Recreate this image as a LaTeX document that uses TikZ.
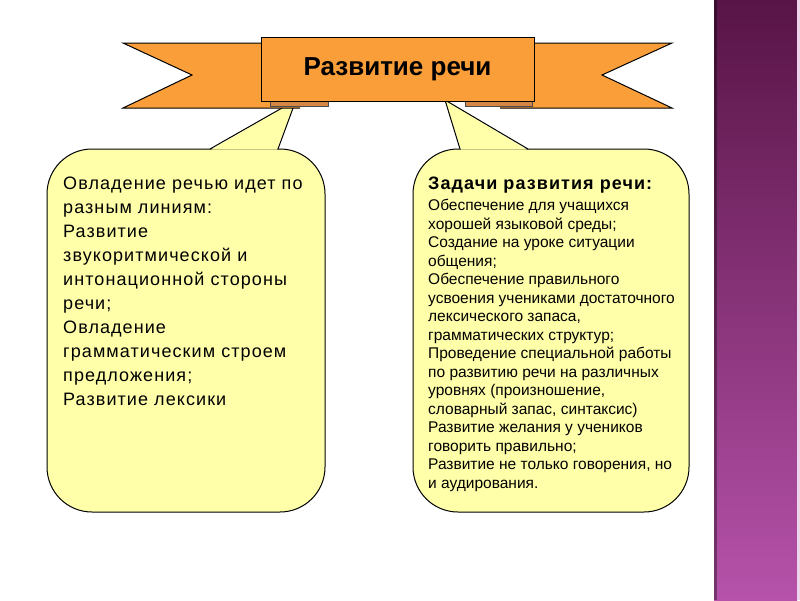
\documentclass[tikz,border=0pt]{standalone}
\usepackage{fontspec}
\setmainfont{Liberation Sans}
\newfontfamily\spacedfont[LetterSpace=6]{Liberation Sans}
\usetikzlibrary{positioning}
\definecolor{ribbonorange}{RGB}{250,158,58}
\definecolor{folddark}{RGB}{212,134,66}
\definecolor{callyellow}{RGB}{255,255,170}
\definecolor{bandtop}{RGB}{88,20,70}
\definecolor{bandbot}{RGB}{182,82,170}

\begin{document}
\begin{tikzpicture}[x=1pt,y=-1pt,
  ribbon/.style={draw=black,fill=ribbonorange,line width=1pt,line join=miter},
  fold/.style={draw=black!70,fill=folddark,line width=.6pt},
  balloon/.style={draw=black,fill=callyellow,line width=1pt,rounded corners=45pt},
  txt/.style={inner sep=0pt,align=left,anchor=north west}]
  \useasboundingbox (0,0) rectangle (800,600);
  % band on the right
  \shade[top color=bandtop,bottom color=bandbot] (714,0) rectangle (797,600);
  \fill[black,opacity=.35] (714,0) rectangle (717,600);
  \fill[bandbot!25] (797,0) rectangle (800,600);
  % callouts
  \coordinate (tl) at (296,100);
  \coordinate (tr) at (445,100);
  \draw[balloon] (47,149) rectangle (325,512);
  \fill[callyellow] (211,149.7) -- (tl) -- (277,149.7) -- cycle;
  \draw[line width=1pt] (210,149) -- (tl) -- (278,149);
  \draw[balloon] (413,149) rectangle (689,512);
  \fill[callyellow] (461,149.7) -- (tr) -- (527,149.7) -- cycle;
  \draw[line width=1pt] (460,149) -- (tr) -- (528,149);
  % ribbon
  \draw[ribbon] (300,43) -- (123,43) -- (192,75) -- (123,108) -- (300,108);
  \draw[ribbon] (500,43) -- (672,43) -- (602,75) -- (672,108) -- (500,108);
  \draw[fold] (270,99) rectangle (328,106.5);
  \draw[fold] (465,99) rectangle (532,106.5);
  \node[ribbon,minimum width=273pt,minimum height=64pt,inner sep=0pt,
    font=\fontsize{26}{30}\selectfont\bfseries] (t) at (397.5,69) {Развитие речи};
  % texts
  \node[txt,font=\fontsize{18}{24}\spacedfont] (l) at (63,177) {Овладение речью идет по\\
    разным линиям:\\
    Развитие\\
    звукоритмической и\\
    интонационной стороны\\
    речи;\\
    Овладение\\
    грамматическим строем\\
    предложения;\\
    Развитие лексики};
  \node[txt,font=\fontsize{18}{20}\spacedfont\bfseries] (h) at (428,177) {Задачи развития речи:};
  \node[txt,font=\fontsize{15.5}{18.5}\selectfont,below=5.5pt of h.south west,anchor=north west] (b) {Обеспечение для учащихся\\
    хорошей языковой среды;\\
    Создание на уроке ситуации\\
    общения;\\
    Обеспечение правильного\\
    усвоения учениками достаточного\\
    лексического запаса,\\
    грамматических структур;\\
    Проведение специальной работы\\
    по развитию речи  на различных\\
    уровнях (произношение,\\
    словарный запас, синтаксис)\\
    Развитие желания у учеников\\
    говорить правильно;\\
    Развитие не только говорения, но\\
    и аудирования.};
\end{tikzpicture}
\end{document}
